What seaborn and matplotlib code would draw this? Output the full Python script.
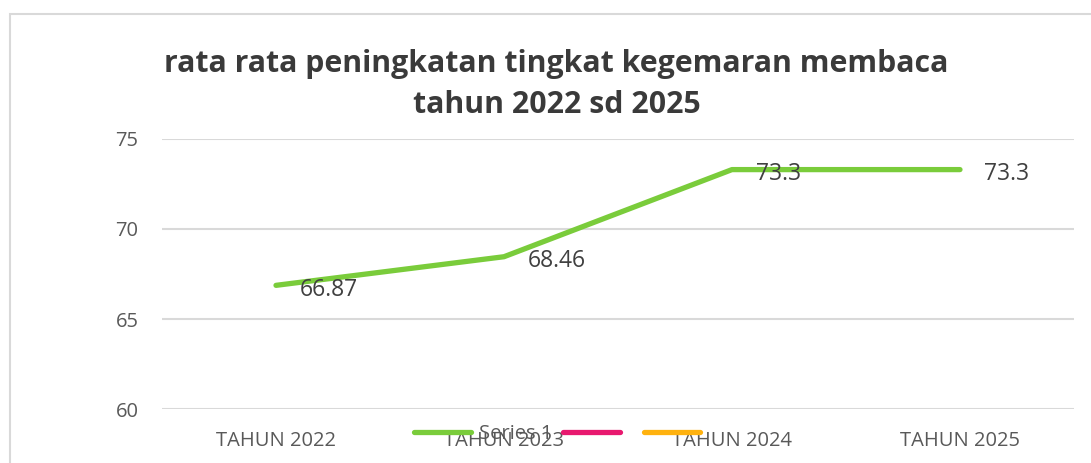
import numpy as np
import pandas as pd
import matplotlib
matplotlib.use("Agg")
import matplotlib.pyplot as plt
import seaborn as sns
from matplotlib.patches import Rectangle
from matplotlib.lines import Line2D

# data
tahun = ["TAHUN 2022", "TAHUN 2023", "TAHUN 2024", "TAHUN 2025"]
nilai = [66.87, 68.46, 73.3, 73.3]
label_nilai = ["66.87", "68.46", "73.3", "73.3"]
seri = ["Series 1", " ", " "]
warna = ["#7ACC3B", "#E8196F", "#FFB20F"]
judul = "rata rata peningkatan tingkat kegemaran membaca\ntahun 2022 sd 2025"

sns.set_theme(style="white")
plt.rcParams['font.family'] = ['Open Sans', 'DejaVu Sans']

df = pd.DataFrame({"tahun": tahun, "nilai": nilai})

fig = plt.figure(figsize=(10.91, 4.63), dpi=100)
ax = fig.add_axes([0.1485, 0.1166, 0.8359, 0.5832])

# chart frame
fig.patches.append(Rectangle((10 / 1091, -0.05), 1.1, 1 - 14 / 463 + 0.05,
                             transform=fig.transFigure, fill=False,
                             edgecolor="#D9D9D9", linewidth=1.5))

sns.lineplot(data=df, x="tahun", y="nilai", ax=ax, color=warna[0],
             linewidth=3.8, sort=False, legend=False)

for i, (v, t) in enumerate(zip(nilai, label_nilai)):
    ax.annotate(t, (i, v), xytext=(17, -3), textcoords="offset points",
                ha="left", va="center", fontsize=16.5, color="#404040")

ax.set_xlim(-0.5, 3.5)
ax.set_ylim(60, 75)
ax.set_yticks([60, 65, 70, 75])
ax.yaxis.grid(True, color="#D9D9D9", linewidth=1.5)
ax.xaxis.grid(False)
for sp in ax.spines.values():
    sp.set_visible(False)
ax.tick_params(axis="both", length=0, labelsize=14.5, labelcolor="#595959")
ax.tick_params(axis="y", pad=17)
ax.tick_params(axis="x", pad=16)
ax.set_xlabel("")
ax.set_ylabel("")

fig.text(0.51, 0.818, judul, ha="center", va="center", fontsize=21.8,
         fontweight="bold", color="#3A3A3A", linespacing=1.5)

# legend overlaps the x tick labels, as in the original
handles = [Line2D([], [], color=c, linewidth=3.8, solid_capstyle="round")
           for c in warna]
fig.legend(handles, seri, loc="center", bbox_to_anchor=(0.517, 0.063),
           ncol=3, frameon=False, fontsize=14.5, handlelength=2.8,
           columnspacing=0.55, handletextpad=0.4, labelcolor="#595959")

fig.savefig("out.png", dpi=100)
